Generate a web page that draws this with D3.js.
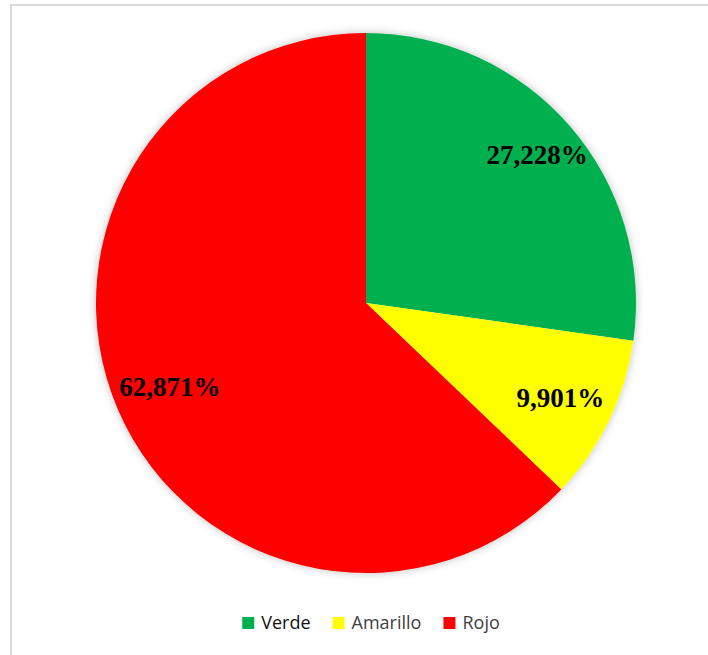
<!DOCTYPE html>
<html lang="es">
<head>
<meta charset="UTF-8">
<title>Verde / Amarillo / Rojo</title>
<style>
    body { margin: 0; padding: 0; background: #fff; }
    #chart { width: 708px; height: 655px; }
    .label { font-family: "Liberation Serif", "Times New Roman", serif; font-weight: bold; font-size: 27px; fill: #000; text-anchor: middle; }
    .legend text { font-family: "Open Sans", sans-serif; font-size: 18px; }
</style>
</head>
<body>
<div id="chart"></div>
<script src="https://d3js.org/d3.v7.min.js"></script>
<script>
    const categories = ["Verde", "Amarillo", "Rojo"];
    const values = [27.228, 9.901, 62.871];
    const labels = ["27,228%", "9,901%", "62,871%"];
    const colors = ["#00B050", "#FFFF00", "#FF0000"];
    const legendTextColors = ["#111111", "#404040", "#404040"];

    const width = 708, height = 655;
    const cx = 366, cy = 303, radius = 270;
    // how far out (fraction of radius) each data label sits
    const labelRadius = [0.84, 0.8, 0.79];

    const svg = d3.select("#chart").append("svg")
        .attr("width", width)
        .attr("height", height);

    // chart frame
    svg.append("rect")
        .attr("x", 11).attr("y", 5)
        .attr("width", width).attr("height", height)
        .attr("fill", "#fff")
        .attr("stroke", "#d9d9d9")
        .attr("stroke-width", 2);

    const defs = svg.append("defs");
    defs.append("filter")
        .attr("id", "shadow")
        .attr("x", "-10%").attr("y", "-10%")
        .attr("width", "120%").attr("height", "120%")
        .append("feDropShadow")
        .attr("dx", 0).attr("dy", 0)
        .attr("stdDeviation", 4)
        .attr("flood-color", "#000")
        .attr("flood-opacity", 0.25);

    const data = categories.map((c, i) => ({ name: c, value: values[i], label: labels[i], color: colors[i] }));

    const pie = d3.pie().value(d => d.value).sort(null);
    const arc = d3.arc().innerRadius(0).outerRadius(radius);

    const g = svg.append("g").attr("transform", `translate(${cx},${cy})`);

    g.append("g")
        .attr("filter", "url(#shadow)")
        .selectAll("path")
        .data(pie(data))
        .enter().append("path")
        .attr("d", arc)
        .attr("fill", d => d.data.color);

    g.selectAll(".label")
        .data(pie(data))
        .enter().append("text")
        .attr("class", "label")
        .attr("transform", (d, i) => {
            const r = radius * labelRadius[i];
            return `translate(${d3.arc().innerRadius(r).outerRadius(r).centroid(d)})`;
        })
        .attr("dy", "0.35em")
        .text(d => d.data.label);

    // legend
    const legend = svg.append("g").attr("class", "legend");
    const items = legend.selectAll("g")
        .data(data)
        .enter().append("g");
    items.append("rect")
        .attr("width", 12).attr("height", 12)
        .attr("y", -6)
        .attr("fill", d => d.color);
    items.append("text")
        .attr("x", 19)
        .attr("dy", "0.35em")
        .attr("fill", (d, i) => legendTextColors[i])
        .text(d => d.name);

    let offset = 0;
    const positions = [];
    items.each(function () {
        positions.push(offset);
        offset += this.getBBox().width + 22;
    });
    const total = offset - 22;
    const startX = 371 - total / 2;
    items.attr("transform", (d, i) => `translate(${startX + positions[i]},623)`);
</script>
</body>
</html>
